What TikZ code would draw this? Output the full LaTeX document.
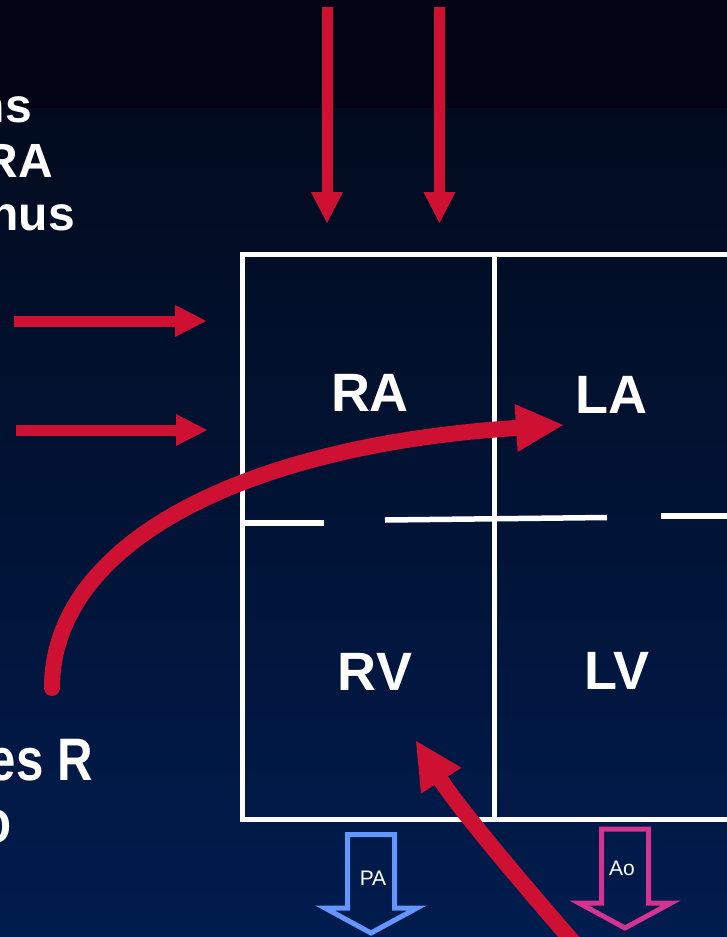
\documentclass[tikz,border=0pt]{standalone}
\usepackage{fontspec}
\setmainfont{Liberation Sans}
\usetikzlibrary{arrows.meta}
\definecolor{bgtop}{RGB}{3,3,21}
\definecolor{bgA}{RGB}{2,11,30}
\definecolor{bgB}{RGB}{0,28,78}
\definecolor{flowred}{RGB}{206,17,51}
\definecolor{paBlue}{RGB}{100,150,255}
\definecolor{aoPink}{RGB}{214,50,145}
\begin{document}
\begin{tikzpicture}[x=1pt,y=-1pt,
  wall/.style={draw=white,line width=5pt,line join=miter},
  divider/.style={draw=white,line width=5.5pt},
  redarrow/.style={draw=flowred,line width=11pt,-{Triangle[length=31pt,width=32pt,line width=0pt]}},
  bigarrow/.style={draw=flowred,line width=16pt,line cap=round,-{Triangle[length=47pt,width=48pt,line width=0pt]}},
  chamber/.style={text=white,font=\bfseries\fontsize{54}{60}\selectfont,anchor=base,inner sep=0pt},
  sidetext/.style={text=white,font=\bfseries\fontsize{48}{54}\selectfont,anchor=base east,inner sep=0pt},
  sidetextb/.style={text=white,font=\bfseries\fontsize{60}{66}\selectfont,anchor=base east,inner sep=0pt},
  vesseltext/.style={text=white,font=\fontsize{21}{24}\selectfont,inner sep=0pt},
  vessel/.style={line width=5pt,line join=miter}]
\useasboundingbox (0,0) rectangle (727,937);
\clip (0,0) rectangle (727,937);
% background
\fill[bgtop] (0,0) rectangle (727,108);
\shade[top color=bgA,bottom color=bgB] (0,108) rectangle (727,937);

% heart box
\draw[wall] (740,254) -- (242,254) -- (242,819) -- (740,819);
\draw[wall] (494,254) -- (494,819);
\draw[divider] (245,523) -- (324,523);
\draw[divider] (385,520) -- (607,517.5);
\draw[divider] (661,516) -- (740,516);

% chamber labels
\node[chamber] (ra) at (370,411) {RA};
\node[chamber] (la) at (611,413) {LA};
\node[chamber] (rv) at (375,690) {RV};
\node[chamber] (lv) at (617,689) {LV};

% side text fragments
\node[sidetext] (s1) at (32,122) {ns};
\node[sidetext] (s2) at (53,177) {RA};
\node[sidetext] (s3) at (75,230) {nus};
\node[sidetextb] (s4) at (93,780) {\scalebox{0.82}[1]{es R}};
\node[sidetextb] (s5) at (12,842) {\scalebox{0.82}[1]{o}};

% straight red arrows
\coordinate (t1s) at (327,7);   \coordinate (t1e) at (327,223);
\coordinate (t2s) at (439.5,7); \coordinate (t2e) at (439.5,223);
\coordinate (l1s) at (14,321);  \coordinate (l1e) at (206,321);
\coordinate (l2s) at (16,430);  \coordinate (l2e) at (207,430);
\draw[redarrow] (t1s) -- (t1e);
\draw[redarrow] (t2s) -- (t2e);
\draw[redarrow] (l1s) -- (l1e);
\draw[redarrow] (l2s) -- (l2e);

% vessels
\draw[vessel,draw=paBlue] (347.5,834.5) -- (394.5,834.5) -- (394.5,908) -- (417,908) -- (371,933) -- (325,908) -- (347.5,908) -- cycle;
\node[vesseltext] (pa) at (373,878) {PA};
\draw[vessel,draw=aoPink] (601.5,829) -- (648.5,829) -- (648.5,903) -- (671,903) -- (625,928) -- (579,903) -- (601.5,903) -- cycle;
\node[vesseltext] (ao) at (622,868) {Ao};

% curved red arrows
\coordinate (c1s) at (52,688); \coordinate (c1e) at (563,425);
\draw[bigarrow] (c1s) .. controls (52,540) and (250,445) .. (c1e);
\coordinate (c2s) at (589,960); \coordinate (c2e) at (416,741);
\draw[bigarrow] (c2s) .. controls (530,893) and (460,810) .. (c2e);
\end{tikzpicture}
\end{document}
